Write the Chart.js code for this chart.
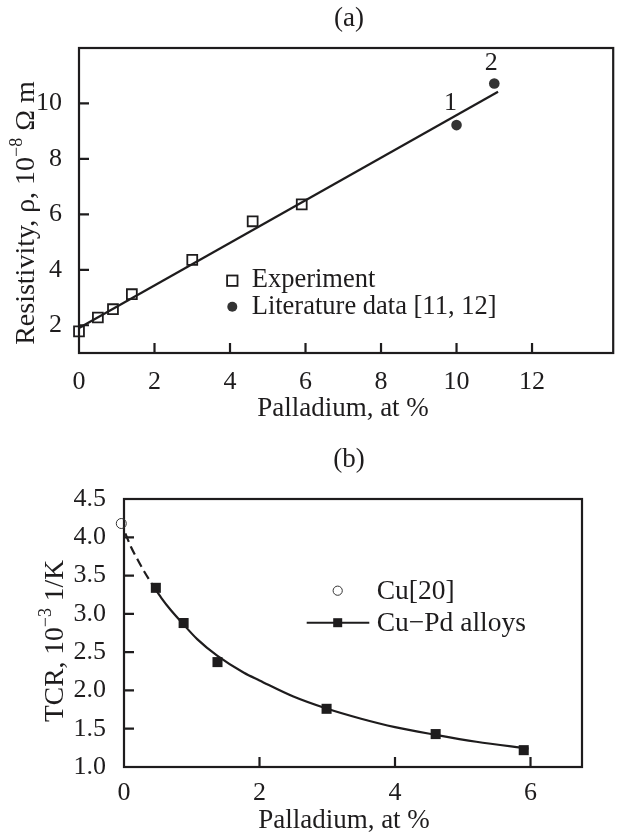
<!DOCTYPE html>
<html><head><meta charset="utf-8">
<script src="https://cdn.jsdelivr.net/npm/chart.js@4.4.1/dist/chart.umd.min.js"></script>
<style>
html,body{margin:0;padding:0;background:#fff;}
#wrap{position:relative;width:622px;height:835px;overflow:hidden;}
canvas{position:absolute;left:0;}
#ca{top:0;} #cb{top:420px;}
</style></head><body>
<div id="wrap"><canvas id="ca" width="622" height="420"></canvas><canvas id="cb" width="622" height="415"></canvas></div>
<script>
// ---------- data (a) ----------
const expX = [0, 0.5, 0.9, 1.4, 3.0, 4.6, 5.9];
const expRho = [1.78, 2.28, 2.58, 3.12, 4.36, 5.75, 6.36];
const litX = [10.0, 11.0];
const litRho = [9.22, 10.72];
const litLabels = ['1', '2'];
const fitX = [0, 11.1];
const fitRho = [1.9, 10.42];
const rhoXTicks = [0, 2, 4, 6, 8, 10, 12];
const rhoYTicks = [2, 4, 6, 8, 10];

// ---------- data (b) ----------
const cuX = [-0.04];
const cuTcr = [4.18];
const alloyX = [0.47, 0.88, 1.38, 2.99, 4.6, 5.9];
const alloyTcr = [3.34, 2.88, 2.37, 1.76, 1.43, 1.22];
const curveX = [0.02, 0.1, 0.2, 0.3, 0.42, 0.55, 0.69, 0.87, 1.08, 1.38, 1.77, 2.0, 2.5, 3.0, 3.5, 4.0, 4.6, 5.2, 5.97];
const curveTcr = [4.05, 3.88, 3.71, 3.55, 3.38, 3.21, 3.05, 2.87, 2.67, 2.45, 2.23, 2.13, 1.92, 1.76, 1.63, 1.52, 1.42, 1.33, 1.24];
const dashedCount = 5;
const tcrXTicks = [0, 2, 4, 6];
const tcrYTicks = [1.0, 1.5, 2.0, 2.5, 3.0, 3.5, 4.0, 4.5];

const INK = '#1e1c1d';
const DOT = '#333333';
const FAM = '"Liberation Serif", "Times New Roman", serif';
const font = s => s + 'px ' + FAM;
const zip = (xs, ys) => xs.map((x, i) => ({x: x, y: ys[i]}));

function drawBox(chart, xt, yt) {
  const {ctx, chartArea: a, scales: {x, y}} = chart;
  ctx.save();
  ctx.strokeStyle = INK; ctx.lineWidth = 2.2;
  ctx.strokeRect(a.left, a.top, a.right - a.left, a.bottom - a.top);
  ctx.beginPath();
  xt.forEach(v => { const p = x.getPixelForValue(v); if (p > a.left + 2 && p < a.right - 2) { ctx.moveTo(p, a.bottom); ctx.lineTo(p, a.bottom - 10); } });
  yt.forEach(v => { const p = y.getPixelForValue(v); if (p > a.top + 2 && p < a.bottom - 2) { ctx.moveTo(a.left, p); ctx.lineTo(a.left + 10, p); } });
  ctx.stroke();
  ctx.restore();
}
function vTitle(ctx, parts, bx, cy, size) {
  ctx.save();
  ctx.translate(bx, cy); ctx.rotate(-Math.PI / 2);
  const sup = Math.round(size * 0.66);
  let total = 0;
  const w = parts.map(p => { ctx.font = font(p.sup ? sup : size); const m = ctx.measureText(p.t).width; total += m; return m; });
  let x = -total / 2;
  ctx.fillStyle = INK; ctx.textAlign = 'left'; ctx.textBaseline = 'alphabetic';
  parts.forEach((p, i) => { ctx.font = font(p.sup ? sup : size); ctx.fillText(p.t, x, p.sup ? -size * 0.42 : 0); x += w[i]; });
  ctx.restore();
}
function hText(ctx, t, x, y, size, align) {
  ctx.save(); ctx.font = font(size); ctx.fillStyle = INK;
  ctx.textAlign = align || 'center'; ctx.textBaseline = 'alphabetic';
  ctx.fillText(t, x, y); ctx.restore();
}

const decorA = {
  id: 'decorA',
  beforeDatasetsDraw(chart) { drawBox(chart, rhoXTicks, rhoYTicks); },
  afterDatasetsDraw(chart) {
    const {ctx, scales: {x, y}} = chart;
    hText(ctx, '(a)', 349, 26, 27);
    hText(ctx, 'Palladium, at %', 343, 416, 27);
    vTitle(ctx, [{t: 'Resistivity, ρ, 10'}, {t: '−8', sup: true}, {t: ' Ω m'}], 34, 213, 28);
    const offs = [[-6, -15], [-3, -13]];
    litLabels.forEach((l, i) => {
      hText(ctx, l, x.getPixelForValue(litX[i]) + offs[i][0], y.getPixelForValue(litRho[i]) + offs[i][1], 26);
    });
    ctx.save();
    ctx.strokeStyle = INK; ctx.lineWidth = 1.8;
    ctx.strokeRect(232.3 - 5.2, 280.7 - 5.2, 10.4, 10.4);
    ctx.fillStyle = DOT; ctx.beginPath(); ctx.arc(232.3, 306.7, 5, 0, Math.PI * 2); ctx.fill();
    ctx.restore();
    hText(ctx, 'Experiment', 251.7, 287, 26.5, 'left');
    hText(ctx, 'Literature data [11, 12]', 251.7, 314, 26.5, 'left');
  }
};
const decorB = {
  id: 'decorB',
  beforeDatasetsDraw(chart) { drawBox(chart, tcrXTicks, tcrYTicks); },
  afterDatasetsDraw(chart) {
    const {ctx} = chart;
    hText(ctx, '(b)', 349, 47, 27);
    hText(ctx, 'Palladium, at %', 344, 408, 27);
    vTitle(ctx, [{t: 'TCR, 10'}, {t: '−3', sup: true}, {t: ' 1/K'}], 63, 221, 27.5);
    ctx.save();
    ctx.strokeStyle = DOT; ctx.lineWidth = 1;
    ctx.beginPath(); ctx.arc(337.7, 170.7, 4.6, 0, Math.PI * 2); ctx.stroke();
    ctx.strokeStyle = INK; ctx.lineWidth = 2;
    ctx.beginPath(); ctx.moveTo(306.7, 202.7); ctx.lineTo(369.3, 202.7); ctx.stroke();
    ctx.fillStyle = INK; ctx.fillRect(337.7 - 4.5, 202.7 - 4.5, 9, 9);
    ctx.restore();
    hText(ctx, 'Cu[20]', 376.7, 179, 27.5, 'left');
    hText(ctx, 'Cu−Pd alloys', 376.7, 210.7, 27.5, 'left');
  }
};

function scaleX(min, max, ticks, height, pad) {
  return {
    type: 'linear', min: min, max: max,
    afterFit: s => { s.height = height; },
    afterBuildTicks: s => { s.ticks = ticks.map(v => ({value: v})); },
    grid: {display: false}, border: {display: false},
    ticks: {color: INK, font: {family: FAM, size: 26}, padding: pad, autoSkip: false, maxRotation: 0}
  };
}
function scaleY(min, max, ticks, width, pad, fmt) {
  return {
    type: 'linear', min: min, max: max,
    afterFit: s => { s.width = width; },
    afterBuildTicks: s => { s.ticks = ticks.map(v => ({value: v})); },
    grid: {display: false}, border: {display: false},
    ticks: {color: INK, font: {family: FAM, size: 26}, padding: pad, autoSkip: false,
      callback: fmt || (v => String(v))}
  };
}
const common = {
  responsive: false, animation: false, devicePixelRatio: 1,
  plugins: {legend: {display: false}, tooltip: {enabled: false}},
  events: []
};

new Chart(document.getElementById('ca'), {
  type: 'scatter',
  data: {datasets: [
    {type: 'line', showLine: true, data: zip(fitX, fitRho), borderColor: INK, borderWidth: 2.2, pointRadius: 0, fill: false, clip: false},
    {data: zip(expX, expRho), pointStyle: 'rect', pointRadius: 7, borderColor: INK, borderWidth: 1.8, backgroundColor: 'rgba(0,0,0,0)', clip: false},
    {data: zip(litX, litRho), pointStyle: 'circle', pointRadius: 5.3, borderWidth: 0, backgroundColor: DOT, clip: false}
  ]},
  options: Object.assign({}, common, {
    layout: {padding: {top: 48, right: 1, left: 0, bottom: 0}},
    scales: {x: scaleX(0, 14.15, rhoXTicks, 67, 6), y: scaleY(1, 12, rhoYTicks, 79, 9)}
  }),
  plugins: [decorA]
});

new Chart(document.getElementById('cb'), {
  type: 'scatter',
  data: {datasets: [
    {type: 'line', showLine: true, data: zip(curveX.slice(0, dashedCount), curveTcr.slice(0, dashedCount)), borderColor: INK, borderWidth: 2.2, borderDash: [9, 5], pointRadius: 0, fill: false, cubicInterpolationMode: 'monotone', clip: false},
    {type: 'line', showLine: true, data: zip(curveX.slice(dashedCount - 1), curveTcr.slice(dashedCount - 1)), borderColor: INK, borderWidth: 2.2, pointRadius: 0, fill: false, cubicInterpolationMode: 'monotone', clip: false},
    {data: zip(alloyX, alloyTcr), pointStyle: 'rect', pointRadius: 7.1, borderWidth: 0, backgroundColor: INK, clip: false},
    {data: zip(cuX, cuTcr), pointStyle: 'circle', pointRadius: 5, borderWidth: 1, borderColor: DOT, backgroundColor: 'rgba(0,0,0,0)', clip: false}
  ]},
  options: Object.assign({}, common, {
    layout: {padding: {top: 79, right: 40, left: 0, bottom: 0}},
    scales: {x: scaleX(0, 6.76, tcrXTicks, 68, 3), y: scaleY(1, 4.5, tcrYTicks, 124, 10, v => Number(v).toFixed(1))}
  }),
  plugins: [decorB]
});
</script>
</body></html>
